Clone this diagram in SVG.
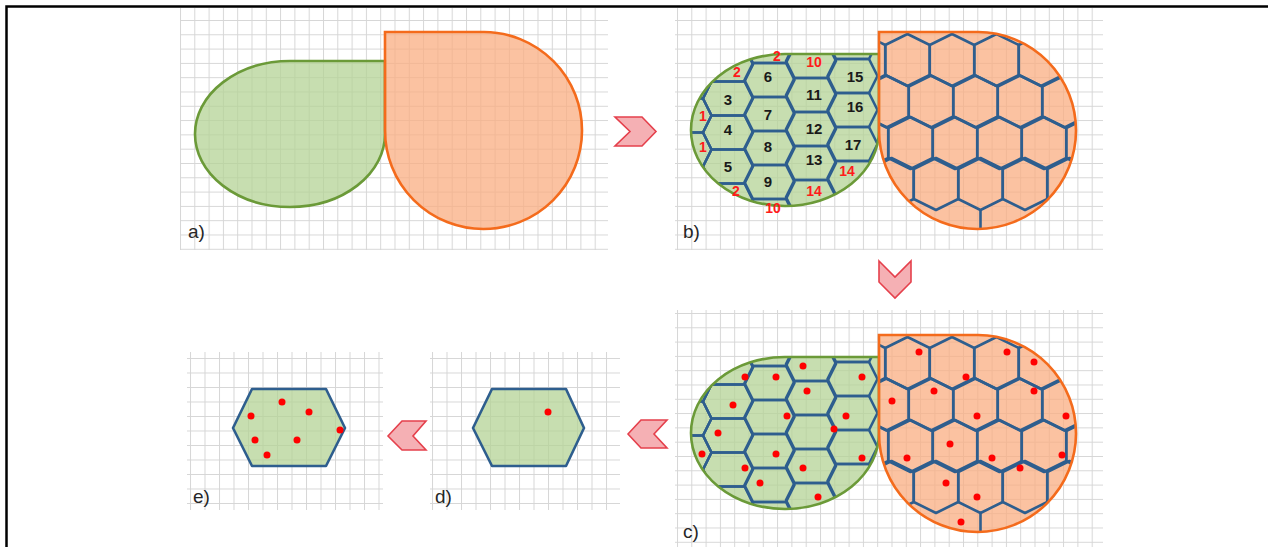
<svg xmlns="http://www.w3.org/2000/svg" xmlns:xlink="http://www.w3.org/1999/xlink" width="1268" height="547" viewBox="0 0 1268 547">
<style>
.grid{stroke:none}
.gfill{fill:#b4d396;fill-opacity:0.75}
.ofill{fill:#f9ad82;fill-opacity:0.75}
.gline{fill:none;stroke:#6b9a38;stroke-width:2.6}
.oline{fill:none;stroke:#f46b1c;stroke-width:2.6}
.hex{fill:none;stroke:#2e5e8e;stroke-width:2.6;stroke-linejoin:round}
.lbl{font-family:"Liberation Sans",Arial,sans-serif;font-size:19px;fill:#262626}
.num{font-family:"Liberation Sans",Arial,sans-serif;font-size:15px;font-weight:bold;fill:#1a1a1a;text-anchor:middle}
.rnum{font-family:"Liberation Sans",Arial,sans-serif;font-size:14px;font-weight:bold;fill:#ff1a1a;text-anchor:middle}
.dot{fill:#ff0000}
.chev{fill:#f5b0b4;stroke:#e5404c;stroke-width:1.6;stroke-linejoin:miter}
</style>
<defs>
<pattern id="ga" x="180" y="5.7" width="14.3" height="14.3" patternUnits="userSpaceOnUse"><path d="M0,0.5H14.3M0.5,0V14.3" stroke="#d6d6d6" stroke-width="1" fill="none"/></pattern>
<pattern id="gb" x="677" y="5.7" width="14.3" height="14.3" patternUnits="userSpaceOnUse"><path d="M0,0.5H14.3M0.5,0V14.3" stroke="#d6d6d6" stroke-width="1" fill="none"/></pattern>
<pattern id="gc" x="677" y="313" width="14.3" height="14.3" patternUnits="userSpaceOnUse"><path d="M0,0.5H14.3M0.5,0V14.3" stroke="#d6d6d6" stroke-width="1" fill="none"/></pattern>
<pattern id="gd" x="432" y="358" width="14.5" height="14.5" patternUnits="userSpaceOnUse"><path d="M0,0.5H14.5M0.5,0V14.5" stroke="#d6d6d6" stroke-width="1" fill="none"/></pattern>
<pattern id="ge" x="190" y="358" width="14.5" height="14.5" patternUnits="userSpaceOnUse"><path d="M0,0.5H14.5M0.5,0V14.5" stroke="#d6d6d6" stroke-width="1" fill="none"/></pattern>
<path id="gshapeB" d="M785,54 H879 V130 A94,76 0 1 1 785,54 Z"/>
<path id="oshapeB" d="M879,32 H978 A98.5,98.5 0 1 1 879,130.5 Z"/>
<clipPath id="clipG"><use href="#gshapeB"/></clipPath>
<clipPath id="clipO"><use href="#oshapeB"/></clipPath>
<path id="fh" d="M-25,0 L-16.5,-17 L16.5,-17 L25,0 L16.5,17 L-16.5,17 Z"/>
<path id="ph" d="M0,-26 L22.25,-15 L22.25,15 L0,26 L-22.25,15 L-22.25,-15 Z"/>
</defs>
<rect x="0" y="0" width="1268" height="547" fill="#ffffff"/>
<rect x="6.5" y="6.5" width="1400" height="700" fill="none" stroke="#000" stroke-width="2.5"/>

<g id="panel-a">
<rect class="grid" x="180" y="8" width="428" height="242" fill="url(#ga)"/>
<path class="gfill" d="M290,61 H385 V134 A95,73 0 1 1 290,61 Z"/>
<path class="gline" d="M290,61 H385 V134 A95,73 0 1 1 290,61 Z"/>
<path class="ofill" d="M385,32 H484 A98.5,98.5 0 1 1 385,130.5 Z"/>
<path class="oline" d="M385,32 H484 A98.5,98.5 0 1 1 385,130.5 Z"/>
<text class="lbl" x="188" y="238">a)</text>
</g>

<g id="panel-b">
<rect class="grid" x="675" y="8" width="428" height="242" fill="url(#gb)"/>
<g id="b-shapes">
<use href="#gshapeB" class="gfill"/>
<g class="hex" clip-path="url(#clipG)">
<use href="#fh" x="686.5" y="47.5"/><use href="#fh" x="686.5" y="81.5"/><use href="#fh" x="686.5" y="115.5"/><use href="#fh" x="686.5" y="149.5"/><use href="#fh" x="686.5" y="183.5"/><use href="#fh" x="686.5" y="217.5"/>
<use href="#fh" x="728" y="30.5"/><use href="#fh" x="728" y="64.5"/><use href="#fh" x="728" y="98.5"/><use href="#fh" x="728" y="132.5"/><use href="#fh" x="728" y="166.5"/><use href="#fh" x="728" y="200.5"/><use href="#fh" x="728" y="234.5"/>
<use href="#fh" x="769.5" y="46"/><use href="#fh" x="769.5" y="80"/><use href="#fh" x="769.5" y="114"/><use href="#fh" x="769.5" y="148"/><use href="#fh" x="769.5" y="182"/><use href="#fh" x="769.5" y="216"/>
<use href="#fh" x="811" y="27"/><use href="#fh" x="811" y="61"/><use href="#fh" x="811" y="95"/><use href="#fh" x="811" y="129"/><use href="#fh" x="811" y="163"/><use href="#fh" x="811" y="197"/><use href="#fh" x="811" y="231"/>
<use href="#fh" x="852.5" y="42"/><use href="#fh" x="852.5" y="76"/><use href="#fh" x="852.5" y="110"/><use href="#fh" x="852.5" y="144"/><use href="#fh" x="852.5" y="178"/><use href="#fh" x="852.5" y="212"/>
</g>
<use href="#gshapeB" class="gline"/>
<use href="#oshapeB" class="ofill"/>
<g class="hex" clip-path="url(#clipO)">
<use href="#ph" x="863" y="60"/><use href="#ph" x="907.5" y="60"/><use href="#ph" x="952" y="60"/><use href="#ph" x="996.5" y="60"/><use href="#ph" x="1041" y="60"/><use href="#ph" x="1085.5" y="60"/>
<use href="#ph" x="886.5" y="101.5"/><use href="#ph" x="931" y="101.5"/><use href="#ph" x="975.5" y="101.5"/><use href="#ph" x="1020" y="101.5"/><use href="#ph" x="1064.5" y="101.5"/>
<use href="#ph" x="866" y="143"/><use href="#ph" x="910.5" y="143"/><use href="#ph" x="955" y="143"/><use href="#ph" x="999.5" y="143"/><use href="#ph" x="1044" y="143"/><use href="#ph" x="1088.5" y="143"/>
<use href="#ph" x="891.5" y="184"/><use href="#ph" x="936" y="184"/><use href="#ph" x="980.5" y="184"/><use href="#ph" x="1025" y="184"/><use href="#ph" x="1069.5" y="184"/>
<path d="M980.5,210 V232"/>
</g>
<use href="#oshapeB" class="oline"/>
</g>
<g id="b-numbers">
<text class="num" x="728" y="105">3</text>
<text class="num" x="728" y="135">4</text>
<text class="num" x="728" y="172">5</text>
<text class="num" x="768" y="82">6</text>
<text class="num" x="768" y="120">7</text>
<text class="num" x="768" y="152">8</text>
<text class="num" x="768" y="187">9</text>
<text class="num" x="814" y="100">11</text>
<text class="num" x="814" y="134">12</text>
<text class="num" x="814" y="165">13</text>
<text class="num" x="855" y="82">15</text>
<text class="num" x="855" y="112">16</text>
<text class="num" x="853" y="150">17</text>
<text class="rnum" x="703" y="121">1</text>
<text class="rnum" x="703" y="152">1</text>
<text class="rnum" x="737" y="77">2</text>
<text class="rnum" x="777" y="61">2</text>
<text class="rnum" x="814" y="67">10</text>
<text class="rnum" x="736" y="196">2</text>
<text class="rnum" x="773" y="213">10</text>
<text class="rnum" x="814" y="196">14</text>
<text class="rnum" x="847" y="176">14</text>
</g>
<text class="lbl" x="683" y="238">b)</text>
</g>

<g id="panel-c">
<rect class="grid" x="675" y="310" width="428" height="237" fill="url(#gc)"/>
<use href="#b-shapes" transform="translate(0,303)"/>
<g class="dot">
<circle cx="745" cy="377" r="3.5"/><circle cx="776" cy="377" r="3.5"/><circle cx="803" cy="366" r="3.5"/><circle cx="862" cy="377" r="3.5"/>
<circle cx="807" cy="391" r="3.5"/><circle cx="733" cy="405" r="3.5"/><circle cx="787" cy="416" r="3.5"/><circle cx="846" cy="416" r="3.5"/>
<circle cx="718" cy="433" r="3.5"/><circle cx="834" cy="429" r="3.5"/><circle cx="702" cy="454" r="3.5"/><circle cx="776" cy="454" r="3.5"/>
<circle cx="862" cy="458" r="3.5"/><circle cx="745" cy="468" r="3.5"/><circle cx="803" cy="468" r="3.5"/><circle cx="760" cy="483" r="3.5"/>
<circle cx="818" cy="497" r="3.5"/>
<circle cx="919" cy="352" r="3.5"/><circle cx="1007" cy="352" r="3.5"/><circle cx="1034" cy="362" r="3.5"/><circle cx="966" cy="377" r="3.5"/>
<circle cx="934" cy="391" r="3.5"/><circle cx="1034" cy="391" r="3.5"/><circle cx="892" cy="401" r="3.5"/><circle cx="1066" cy="416" r="3.5"/>
<circle cx="977" cy="416" r="3.5"/><circle cx="950" cy="444" r="3.5"/><circle cx="907" cy="458" r="3.5"/><circle cx="992" cy="458" r="3.5"/>
<circle cx="1062" cy="455" r="3.5"/><circle cx="1020" cy="468" r="3.5"/><circle cx="946" cy="483" r="3.5"/><circle cx="977" cy="497" r="3.5"/>
<circle cx="961" cy="522" r="3.5"/>
</g>
<text class="lbl" x="683" y="538">c)</text>
</g>

<g id="panel-d">
<rect class="grid" x="430" y="352" width="190" height="158" fill="url(#gd)"/>
<path class="gfill" d="M473,428 L492,389 H566 L584,428 L566,466 H492 Z"/>
<path class="hex" d="M473,428 L492,389 H566 L584,428 L566,466 H492 Z"/>
<circle class="dot" cx="548" cy="412" r="3.5"/>
<text class="lbl" x="435" y="503">d)</text>
</g>

<g id="panel-e">
<rect class="grid" x="187" y="352" width="196" height="158" fill="url(#ge)"/>
<path class="gfill" d="M233,428 L252,389 H326 L345,428 L326,466 H252 Z"/>
<path class="hex" d="M233,428 L252,389 H326 L345,428 L326,466 H252 Z"/>
<g class="dot">
<circle cx="282" cy="402" r="3.5"/><circle cx="251" cy="416" r="3.5"/><circle cx="309" cy="412" r="3.5"/><circle cx="340" cy="430" r="3.5"/>
<circle cx="255" cy="440" r="3.5"/><circle cx="297" cy="440" r="3.5"/><circle cx="267" cy="455" r="3.5"/>
</g>
<text class="lbl" x="193" y="503">e)</text>
</g>

<g id="connectors">
<path class="chev" d="M615,117 H642 L656,131.5 L642,146 H615 L630,131.5 Z"/>
<path class="chev" d="M879,261 L895,277 L911,261 V282 L895,298 L879,282 Z"/>
<path class="chev" d="M628,434 L641,420 H667 L654,434 L667,448 H641 Z"/>
<path class="chev" d="M388,436 L402,421 H426 L413,436 L426,450 H402 Z"/>
</g>
</svg>
